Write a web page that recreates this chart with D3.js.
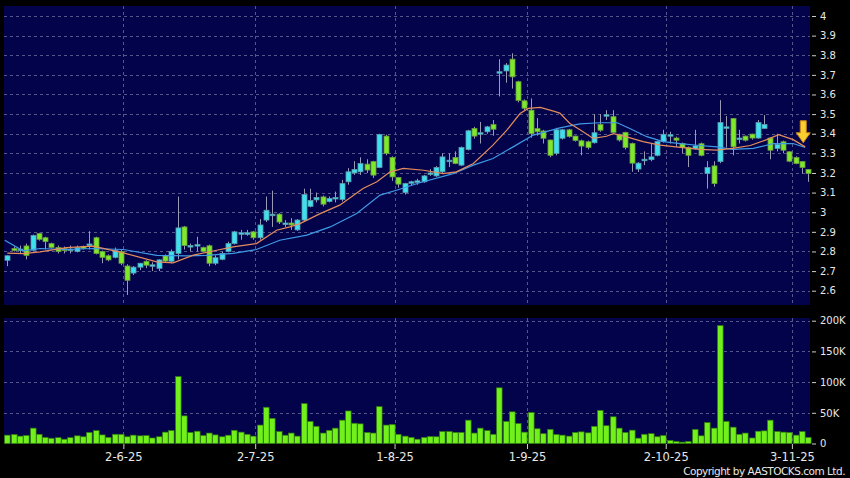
<!DOCTYPE html>
<html><head><meta charset="utf-8">
<script src="https://cdn.jsdelivr.net/npm/d3@7"></script>
<style>html,body{margin:0;padding:0;background:#000;} svg{display:block}</style>
</head><body><svg id="c" width="850" height="478"></svg>
<script>
// ---- data ----
const opens=[2.755,2.815,2.81,2.828,2.806,2.891,2.87,2.84,2.82,2.815,2.81,2.80,2.825,2.83,2.87,2.80,2.778,2.77,2.80,2.726,
2.69,2.72,2.75,2.728,2.714,2.778,2.75,2.79,2.925,2.824,2.83,2.82,2.829,2.74,2.76,2.80,2.84,2.888,2.89,2.90,
2.87,2.96,2.983,2.99,2.938,2.945,2.91,2.96,3.03,3.063,3.078,3.055,3.068,3.065,3.155,3.20,3.206,3.245,3.258,3.228,
3.388,3.279,3.177,3.10,3.148,3.152,3.155,3.194,3.185,3.206,3.26,3.279,3.24,3.32,3.427,3.398,3.41,3.447,3.71,3.72,
3.78,3.665,3.568,3.52,3.426,3.414,3.368,3.30,3.377,3.42,3.388,3.364,3.359,3.354,3.447,3.49,3.487,3.397,3.407,3.35,
3.22,3.262,3.268,3.29,3.36,3.388,3.378,3.35,3.33,3.323,3.349,3.197,3.236,3.258,3.428,3.478,3.372,3.388,3.398,3.378,
3.427,3.378,3.325,3.359,3.308,3.279,3.258,3.218];
const highs=[2.78,2.825,2.83,2.84,2.886,2.895,2.875,2.845,2.83,2.825,2.83,2.83,2.83,2.903,2.875,2.805,2.785,2.82,2.81,2.735,
2.725,2.74,2.755,2.745,2.76,2.785,2.81,3.08,2.93,2.84,2.875,2.825,2.835,2.78,2.80,2.85,2.905,2.91,2.91,2.905,
2.965,3.08,3.11,2.995,2.96,2.97,2.965,3.12,3.12,3.10,3.085,3.08,3.105,3.165,3.225,3.26,3.28,3.27,3.262,3.40,
3.395,3.285,3.18,3.15,3.16,3.17,3.19,3.22,3.235,3.30,3.30,3.31,3.335,3.42,3.435,3.46,3.44,3.47,3.78,3.76,
3.81,3.67,3.575,3.58,3.48,3.42,3.37,3.43,3.425,3.425,3.39,3.37,3.365,3.50,3.50,3.52,3.52,3.40,3.41,3.355,
3.255,3.31,3.35,3.365,3.42,3.41,3.385,3.355,3.335,3.42,3.355,3.26,3.26,3.571,3.49,3.48,3.42,3.39,3.40,3.47,
3.495,3.38,3.40,3.365,3.31,3.285,3.26,3.22];
const lows=[2.725,2.80,2.79,2.76,2.80,2.855,2.81,2.815,2.79,2.79,2.79,2.795,2.81,2.81,2.785,2.74,2.75,2.765,2.73,2.578,
2.68,2.705,2.715,2.70,2.70,2.745,2.74,2.76,2.81,2.80,2.80,2.795,2.725,2.73,2.755,2.795,2.835,2.86,2.88,2.86,
2.86,2.95,2.925,2.94,2.925,2.91,2.905,2.95,3.025,3.05,3.03,3.05,3.05,3.055,3.14,3.19,3.19,3.20,3.175,3.225,
3.29,3.16,3.125,3.09,3.135,3.14,3.15,3.185,3.18,3.20,3.23,3.245,3.235,3.315,3.375,3.35,3.40,3.39,3.59,3.66,
3.63,3.56,3.52,3.38,3.39,3.35,3.28,3.29,3.37,3.38,3.36,3.29,3.32,3.35,3.41,3.47,3.40,3.36,3.32,3.206,
3.205,3.24,3.26,3.285,3.355,3.35,3.333,3.30,3.23,3.32,3.285,3.12,3.13,3.25,3.33,3.29,3.35,3.36,3.37,3.375,
3.425,3.27,3.31,3.30,3.255,3.245,3.197,3.155];
const closes=[2.778,2.805,2.812,2.78,2.881,2.862,2.85,2.82,2.80,2.805,2.812,2.82,2.815,2.838,2.79,2.77,2.757,2.805,2.74,2.653,
2.72,2.74,2.73,2.732,2.757,2.751,2.80,2.92,2.83,2.83,2.835,2.80,2.74,2.768,2.79,2.84,2.90,2.895,2.895,2.87,
2.935,3.01,2.99,2.95,2.945,2.935,2.96,3.09,3.06,3.075,3.041,3.07,3.075,3.146,3.206,3.218,3.248,3.215,3.189,3.396,
3.30,3.18,3.143,3.146,3.155,3.16,3.185,3.20,3.228,3.282,3.265,3.248,3.33,3.415,3.388,3.405,3.435,3.423,3.716,3.75,
3.69,3.57,3.53,3.40,3.41,3.377,3.29,3.42,3.42,3.386,3.366,3.337,3.33,3.405,3.418,3.497,3.407,3.368,3.33,3.25,
3.25,3.27,3.282,3.36,3.397,3.395,3.367,3.33,3.29,3.338,3.29,3.228,3.146,3.457,3.435,3.333,3.378,3.367,3.378,3.457,
3.447,3.316,3.345,3.316,3.26,3.248,3.228,3.197];
// volume in thousands of shares
const volumes=[13.6,14.7,12,13,25,15,10,8.5,9.5,7,9.5,12.5,11,18,21,14,10,15,15,11,
13.6,12.5,13,9,11,18.5,21,109,45,18,20,13,17,14,11,13.5,21.5,18.5,15,12,
30,59,41,19.5,13.5,17,12,65,36,28,17,21.5,25,38,53,33,32,18,17,60,
30,31,15,12,10,7,10,11.4,11,19.5,19.5,18,18,38,17,25,21,15,90.7,36,
51.6,32.6,18.5,50.5,24,16,23,14.7,13.6,12,18,19,17.4,28,54,29,43.5,25,18,21.7,
8.7,15,16,11,13,5,3.3,2.2,3.3,23,12.5,34,25,192,36,26.6,15,17,9,20,
20.6,38,19.5,18.5,18,13.6,19.5,10];
// moving averages read at sample positions (bar index, price)
const maShortIdx=[0,2.5,5.2,9.4,13.6,18.4,23.7,26.3,29.5,33.2,35.8,39.5,42.7,44.8,46.4,49.6,52.7,56.4,58.6,60.7,62.8,66,69.1,71.2,73.9,77,79.2,81.3,82.6,84.5,86.6,87.6,89.2,90.8,92.9,95,96.1,98.2,100.8,103.5,106.7,109.8,112.5,115,117.8,120.4,122.3,124.6,126.5];
const maShort=[2.792,2.789,2.798,2.82,2.827,2.793,2.747,2.742,2.781,2.806,2.823,2.84,2.908,2.925,2.942,2.993,3.036,3.121,3.155,3.206,3.223,3.214,3.197,3.206,3.248,3.342,3.418,3.503,3.529,3.534,3.515,3.505,3.452,3.42,3.376,3.387,3.40,3.384,3.36,3.342,3.33,3.32,3.316,3.325,3.34,3.37,3.395,3.37,3.333];
const maLongIdx=[-0.4,2.5,5.2,9.4,13.6,18.4,23.7,28.4,31.6,35.8,39.5,43.2,47.5,51.2,55.4,59.1,61.7,65.4,70.7,73.9,77,80.2,83.4,87.6,90.8,94,96.7,98.7,101.4,104,106.7,109.8,112.5,115,118.3,121.5,124.6,126.5];
const maLong=[2.857,2.803,2.815,2.81,2.815,2.81,2.78,2.777,2.78,2.79,2.81,2.857,2.883,2.925,2.993,3.087,3.112,3.15,3.197,3.24,3.274,3.333,3.393,3.43,3.45,3.456,3.456,3.427,3.385,3.36,3.35,3.34,3.333,3.32,3.325,3.35,3.35,3.33];
const priceTicks=[2.6,2.7,2.8,2.9,3.0,3.1,3.2,3.3,3.4,3.5,3.6,3.7,3.8,3.9,4.0];
const volTicks=[0,50,100,150,200];
const dateTickIdx=[18.4,39.3,61.4,82.4,104.4,124.4];
const dateTickLabels=["2-6-25","2-7-25","1-8-25","1-9-25","2-10-25","3-11-25"];
const arrowIdx=126.2, arrowVal=3.354;

// ---- layout ----
const svg=d3.select('#c');
const W=850,H=478;
const L=4,R=810,pTop=6,pBot=305,vTop=318,vBot=444;
const x=d3.scaleLinear().domain([0,opens.length-1]).range([7.3,808.3]);
const yP=d3.scaleLinear().domain([2.6,4.0]).range([290.7,16]);
const yV=d3.scaleLinear().domain([0,200]).range([443.5,320.7]);
const navy='#03034b', grid='#55558a';
const upC='#3fe0ee', dnC='#7ee82a';
const font='DejaVu Sans';

svg.append('rect').attr('width',W).attr('height',H).attr('fill','#000');
svg.append('rect').attr('x',L).attr('y',pTop).attr('width',R-L).attr('height',pBot-pTop).attr('fill',navy);
svg.append('rect').attr('x',L).attr('y',vTop).attr('width',R-L).attr('height',vBot-vTop).attr('fill',navy);

// grids
const g=svg.append('g').attr('stroke',grid).attr('stroke-width',1).attr('stroke-dasharray','3,3').attr('shape-rendering','crispEdges');
g.selectAll('.hp').data(priceTicks).join('line').attr('x1',L).attr('x2',R).attr('y1',d=>Math.round(yP(d))+0.5).attr('y2',d=>Math.round(yP(d))+0.5);
g.selectAll('.hv').data(volTicks.filter(d=>d>0)).join('line').attr('x1',L).attr('x2',R).attr('y1',d=>Math.round(yV(d))+0.5).attr('y2',d=>Math.round(yV(d))+0.5);
g.selectAll('.vp').data(dateTickIdx).join('line').attr('x1',d=>Math.round(x(d))+0.5).attr('x2',d=>Math.round(x(d))+0.5).attr('y1',pTop).attr('y2',pBot);
g.selectAll('.vv').data(dateTickIdx).join('line').attr('x1',d=>Math.round(x(d))+0.5).attr('x2',d=>Math.round(x(d))+0.5).attr('y1',vTop).attr('y2',vBot);

// candles
const bw=5;
const cg=svg.append('g');
opens.forEach((o,i)=>{
  const c=closes[i], up=c>=o, cx=Math.round(x(i))+0.5;
  cg.append('line').attr('x1',cx).attr('x2',cx).attr('y1',yP(highs[i])).attr('y2',yP(lows[i]))
    .attr('stroke','#9a9ab4').attr('stroke-width',1);
  const top=yP(Math.max(o,c)), bot=yP(Math.min(o,c));
  const h=Math.max(bot-top,1.5);
  cg.append('rect').attr('x',cx-bw/2).attr('y',top).attr('width',bw).attr('height',h)
    .attr('fill',up?upC:dnC).attr('stroke',up?'#5c9aa8':'#6a9a40').attr('stroke-width',0.8);
});

// moving averages
const lineS=d3.line().x(d=>x(d[0])).y(d=>yP(d[1]));
svg.append('path').attr('d',lineS(maLongIdx.map((k,j)=>[k,maLong[j]]))).attr('fill','none').attr('stroke','#3f9ae6').attr('stroke-width',1.2);
svg.append('path').attr('d',lineS(maShortIdx.map((k,j)=>[k,maShort[j]]))).attr('fill','none').attr('stroke','#e58c5c').attr('stroke-width',1.2);

// volume bars
svg.append('g').selectAll('rect').data(volumes).join('rect')
  .attr('x',(d,i)=>Math.round(x(i))-2.5).attr('y',d=>yV(d)).attr('width',5.6).attr('height',d=>yV(0)-yV(d))
  .attr('fill','#72f01c').attr('stroke','#2f7a0c').attr('stroke-width',0.7);

// arrow
const ax=x(arrowIdx), ay=yP(arrowVal);
svg.append('path')
  .attr('d',`M${ax-3},${ay-22} L${ax+3},${ay-22} L${ax+3},${ay-10} L${ax+7},${ay-10} L${ax},${ay} L${ax-7},${ay-10} L${ax-3},${ay-10} Z`)
  .attr('fill','#f7cf2e').attr('stroke','#c98512').attr('stroke-width',1);

// axes
function styleAxis(sel,size){
  sel.select('.domain').remove();
  sel.selectAll('.tick line').attr('stroke','#cccccc');
  sel.selectAll('.tick text').attr('fill','#e8e8e8').style('font-family',font).style('font-size',size);
}
svg.append('g').attr('transform',`translate(${R+2},0)`)
  .call(d3.axisRight(yP).tickValues(priceTicks).tickSize(4).tickPadding(4).tickFormat(d=>String(+d.toFixed(1))))
  .call(styleAxis,'10px');
svg.append('g').attr('transform',`translate(${R+2},0)`)
  .call(d3.axisRight(yV).tickValues(volTicks).tickSize(4).tickPadding(4).tickFormat(d=>d===0?'0':d+'K'))
  .call(styleAxis,'10px');
svg.append('g').attr('transform',`translate(0,${vBot})`)
  .call(d3.axisBottom(x).tickValues(dateTickIdx).tickSize(5).tickPadding(4).tickFormat((d,i)=>dateTickLabels[i]))
  .call(styleAxis,'11.5px');

svg.append('text').attr('x',845).attr('y',475).attr('text-anchor','end')
  .attr('fill','#e8e8e8').style('font-family',font).style('font-size','10.5px').style('letter-spacing','-0.5px')
  .text('Copyright by AASTOCKS.com Ltd.');
</script></body></html>
